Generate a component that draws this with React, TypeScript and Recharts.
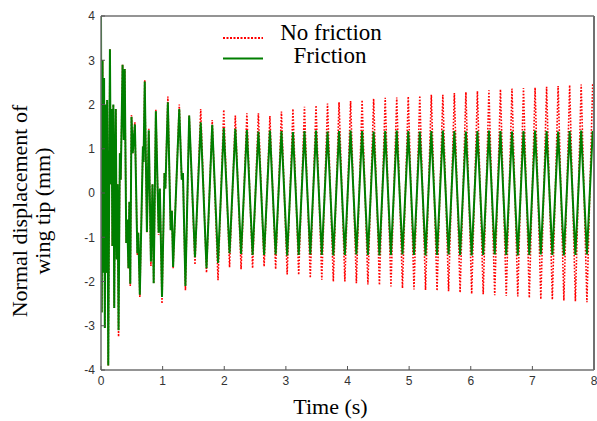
// Wing-tip normal displacement, friction vs. no friction. Values are the extrema read off the
// reference plot: a hand-read transient for the first ~1.4 s, then one peak/trough per half cycle.

import { Line, LineChart, ReferenceLine, XAxis, YAxis } from "recharts";

const transientTime = [
  0, 0.012, 0.025, 0.038, 0.05, 0.062, 0.075, 0.088, 0.1, 0.118, 0.145, 0.158, 0.172, 0.185, 0.2, 0.215, 0.228,
  0.24, 0.255, 0.268, 0.285, 0.306, 0.32, 0.35, 0.37, 0.385, 0.41, 0.425, 0.445, 0.46, 0.475, 0.495, 0.515, 0.55,
  0.59, 0.605, 0.63, 0.68, 0.69, 0.71, 0.745, 0.775, 0.81, 0.835, 0.855, 0.89, 0.935, 0.955, 0.99, 1.03, 1.045,
  1.085, 1.13, 1.15, 1.17, 1.27, 1.31, 1.33, 1.37,
];
const transientFriction = [
  4.0, -2.7, 3.0, -1.8, 2.6, -3.05, 2.0, -1.8, 2.1, -3.9, 3.25, 0.2, 1.9, -1.2, 2.0, -2.6, 0.5, 1.9, -1.5, 0.2,
  -3.1, 0.9, 0.3, 2.9, 1.2, 2.8, -1.13, -0.6, -1.7, -0.2, -2.05, 1.72, 0.9, 1.55, -1.36, -0.9, -2.3, 1.05, 0.7,
  2.52, -0.88, 1.42, -1.55, 0.2, -2.04, 1.85, -0.9, 0.1, -2.35, 0.45, 0.1, 2.05, -0.84, -0.4, -1.67, 1.9, 0.3,
  0.45, -2.1,
];
const transientNoFriction = [
  4.0, -2.7, 3.0, -1.8, 2.6, -3.05, 2.0, -1.8, 2.1, -3.9, 3.25, 0.2, 1.9, -1.2, 2.0, -2.6, 0.5, 1.9, -1.5, 0.2,
  -3.25, 0.9, 0.3, 2.9, 1.2, 2.8, -1.13, -0.6, -1.7, -0.2, -2.1, 1.76, 0.9, 1.6, -1.4, -0.9, -2.35, 1.05, 0.7,
  2.55, -0.9, 1.45, -1.65, 0.2, -2.05, 1.88, -0.95, 0.1, -2.5, 0.45, 0.1, 2.18, -0.84, -0.4, -1.7, 2.0, 0.3, 0.45,
  -2.2,
];

// steady part: alternating peak / trough
const steadyTime = [
  1.431, 1.525, 1.618, 1.712, 1.805, 1.899, 1.992, 2.086, 2.18, 2.273, 2.367, 2.46, 2.554, 2.647, 2.741, 2.834,
  2.928, 3.021, 3.115, 3.208, 3.302, 3.396, 3.489, 3.583, 3.676, 3.77, 3.863, 3.957, 4.05, 4.144, 4.237, 4.331,
  4.424, 4.518, 4.612, 4.705, 4.799, 4.892, 4.986, 5.079, 5.173, 5.266, 5.36, 5.453, 5.547, 5.64, 5.734, 5.827,
  5.921, 6.015, 6.108, 6.202, 6.295, 6.389, 6.482, 6.576, 6.669, 6.763, 6.856, 6.95, 7.044, 7.137, 7.231, 7.324,
  7.418, 7.511, 7.605, 7.698, 7.792, 7.885, 7.979,
];
const steadyFriction = [
  1.75, -1.45, 1.6, -1.7, 1.54, -1.58, 1.47, -1.36, 1.45, -1.38, 1.42, -1.4, 1.39, -1.4, 1.41, -1.39, 1.4, -1.41,
  1.38, -1.4, 1.4, -1.39, 1.41, -1.4, 1.39, -1.41, 1.4, -1.4, 1.41, -1.39, 1.4, -1.4, 1.39, -1.41, 1.4, -1.4,
  1.41, -1.39, 1.4, -1.4, 1.39, -1.41, 1.4, -1.4, 1.41, -1.39, 1.4, -1.4, 1.39, -1.41, 1.4, -1.4, 1.41, -1.39,
  1.4, -1.4, 1.39, -1.41, 1.4, -1.4, 1.41, -1.39, 1.4, -1.4, 1.39, -1.41, 1.4, -1.4, 1.41, -1.39, 1.4,
];
const steadyNoFriction = [
  1.75, -1.62, 1.9, -1.8, 1.65, -1.97, 1.88, -1.68, 1.75, -1.72, 1.8, -1.7, 1.8, -1.66, 1.74, -1.72, 1.84, -1.84,
  1.9, -1.85, 1.95, -1.92, 1.98, -1.96, 2.02, -2.0, 2.05, -2.0, 2.08, -2.04, 2.1, -2.07, 2.13, -2.08, 2.15, -2.11,
  2.16, -2.15, 2.18, -2.18, 2.2, -2.19, 2.22, -2.21, 2.22, -2.22, 2.26, -2.25, 2.28, -2.28, 2.3, -2.29, 2.32,
  -2.31, 2.34, -2.33, 2.36, -2.34, 2.37, -2.37, 2.38, -2.4, 2.4, -2.41, 2.42, -2.43, 2.44, -2.45, 2.45, -2.47, 2.47,
];

const timeTicks = [0, 1, 2, 3, 4, 5, 6, 7, 8];
const dispTicks = [-4, -3, -2, -1, 0, 1, 2, 3, 4];

const data = [
  ...transientTime.map((t, i) => ({ t, noFriction: transientNoFriction[i], friction: transientFriction[i] })),
  ...steadyTime.map((t, i) => ({ t, noFriction: steadyNoFriction[i], friction: steadyFriction[i] })),
];

const SERIF = "'Liberation Serif', 'Times New Roman', serif";
const SANS = "'Liberation Sans', Arial, sans-serif";
const RED = "#ff0000";
const GREEN = "#007f00";
const frame = { stroke: "#707070", strokeWidth: 1.5 };
const tickLine = { stroke: "#555" };
const tickText = { fontSize: 12, fill: "#333", fontFamily: SANS };

export default function App() {
  return (
    <div style={{ position: "absolute", left: 0, top: 0, width: 597, height: 421, background: "#fff" }}>
      <LineChart width={597} height={421} data={data} margin={{ top: 15, right: 2, bottom: 0, left: 0 }}>
        <XAxis
          xAxisId="b"
          dataKey="t"
          type="number"
          domain={[0, 8]}
          ticks={timeTicks}
          allowDataOverflow
          height={51}
          axisLine={frame}
          tickLine={tickLine}
          tickSize={-4}
          tickMargin={10}
          tick={tickText}
        />
        <XAxis
          xAxisId="top"
          orientation="top"
          dataKey="t"
          type="number"
          domain={[0, 8]}
          ticks={timeTicks}
          allowDataOverflow
          height={1}
          axisLine={frame}
          tickLine={tickLine}
          tickSize={-4}
          tick={false}
        />
        <YAxis
          yAxisId="l"
          type="number"
          domain={[-4, 4]}
          ticks={dispTicks}
          allowDataOverflow
          width={101}
          axisLine={frame}
          tickLine={tickLine}
          tickSize={-4}
          tickMargin={10}
          tick={tickText}
        />
        <YAxis
          yAxisId="r"
          orientation="right"
          type="number"
          domain={[-4, 4]}
          ticks={dispTicks}
          allowDataOverflow
          width={1}
          axisLine={frame}
          tickLine={tickLine}
          tickSize={-4}
          tick={false}
        />
        {/* right edge of the box */}
        <ReferenceLine xAxisId="b" yAxisId="l" x={8} stroke="#707070" strokeWidth={2} ifOverflow="visible" />
        {/* invisible twin so the mirrored top/right frame axes get drawn */}
        <Line
          xAxisId="top"
          yAxisId="r"
          type="linear"
          dataKey="friction"
          stroke="none"
          dot={false}
          legendType="none"
          isAnimationActive={false}
        />
        <Line
          xAxisId="b"
          yAxisId="l"
          type="linear"
          dataKey="noFriction"
          stroke={RED}
          strokeWidth={1.6}
          strokeDasharray="1.6 1.6"
          dot={false}
          isAnimationActive={false}
        />
        <Line
          xAxisId="b"
          yAxisId="l"
          type="linear"
          dataKey="friction"
          stroke={GREEN}
          strokeWidth={2}
          dot={false}
          isAnimationActive={false}
        />
      </LineChart>
      <svg
        width={597}
        height={421}
        style={{ position: "absolute", left: 0, top: 0, pointerEvents: "none" }}
        fontFamily={SERIF}
      >
        {/* box edge on the right, in case the mirrored axis line is not painted */}
        <line x1={594} x2={594} y1={16} y2={370} stroke="#707070" strokeWidth={1.5} />
        <line x1={223} x2={263} y1={38} y2={38} stroke={RED} strokeWidth={2} strokeDasharray="2 1.5" />
        <line x1={223} x2={263} y1={58.5} y2={58.5} stroke={GREEN} strokeWidth={2} />
        <text x={331} y={40} fontSize={23} textAnchor="middle">No friction</text>
        <text x={330} y={63} fontSize={23} textAnchor="middle">Friction</text>
        <text x={330.5} y={414} fontSize={22} textAnchor="middle">Time (s)</text>
        <text transform="translate(27,211) rotate(-90)" fontSize={22} textAnchor="middle">
          Normal displacement of
        </text>
        <text transform="translate(50,211) rotate(-90)" fontSize={22} textAnchor="middle">
          wing tip (mm)
        </text>
      </svg>
    </div>
  );
}
